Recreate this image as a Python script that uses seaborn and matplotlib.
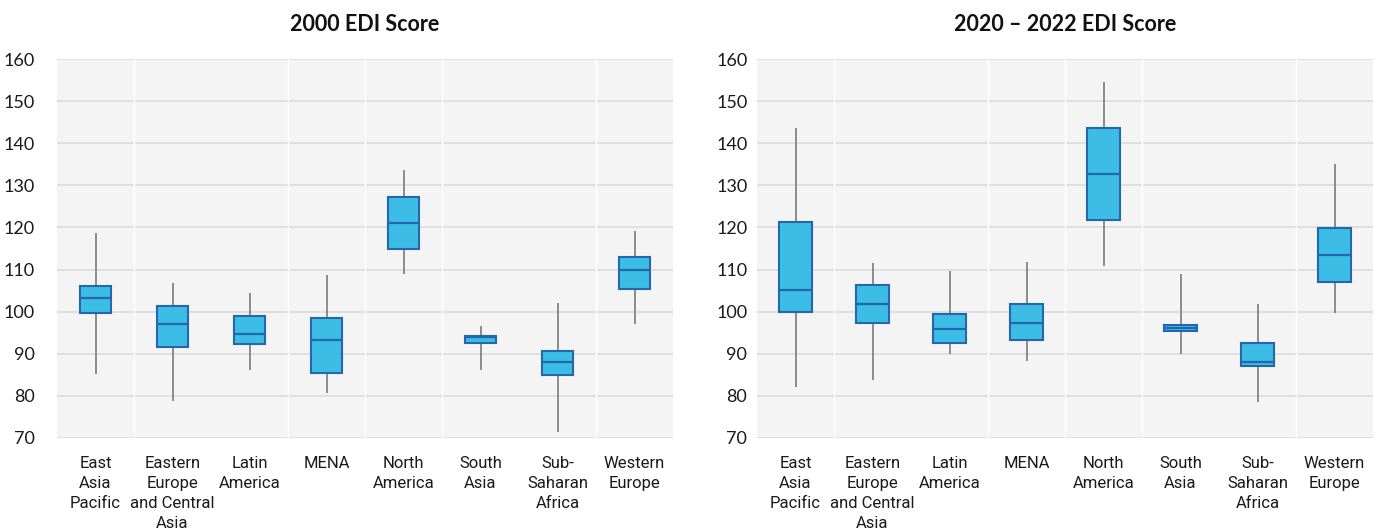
import numpy as np
import pandas as pd
import matplotlib
matplotlib.use("Agg")
import matplotlib.pyplot as plt
import seaborn as sns

# Regions shown on the x axis (display labels wrap onto several lines)
regions = ["East Asia Pacific", "Eastern Europe and Central Asia", "Latin America",
           "MENA", "North America", "South Asia", "Sub-Saharan Africa", "Western Europe"]
region_labels = ["East\nAsia\nPacific", "Eastern\nEurope\nand Central\nAsia", "Latin\nAmerica",
                 "MENA", "North\nAmerica", "South\nAsia", "Sub-\nSaharan\nAfrica", "Western\nEurope"]

# Five-number summaries per region: min, Q1, median, Q3, max
edi_2000_min = [85.3, 78.8, 86.2, 80.8, 109.0, 86.2, 71.4, 97.1]
edi_2000_q1 = [99.6, 91.6, 92.3, 85.5, 115.0, 92.6, 84.9, 105.4]
edi_2000_med = [103.2, 97.0, 94.8, 93.2, 121.1, 93.9, 88.1, 109.8]
edi_2000_q3 = [106.0, 101.3, 99.0, 98.4, 127.3, 94.2, 90.7, 113.1]
edi_2000_max = [118.6, 106.9, 104.4, 108.8, 133.6, 96.7, 102.1, 119.2]

edi_2022_min = [82.1, 83.7, 90.0, 88.2, 110.9, 89.9, 78.5, 99.7]
edi_2022_q1 = [99.9, 97.4, 92.6, 93.3, 121.8, 95.5, 87.2, 107.1]
edi_2022_med = [105.2, 101.9, 95.8, 97.4, 132.7, 96.2, 88.1, 113.5]
edi_2022_q3 = [121.2, 106.4, 99.4, 101.9, 143.6, 96.8, 92.6, 119.9]
edi_2022_max = [143.5, 111.5, 109.6, 111.9, 154.5, 108.9, 101.9, 135.0]

titles = ["2000 EDI Score", "2020 \u2013 2022 EDI Score"]
y_ticks = [70, 80, 90, 100, 110, 120, 130, 140, 150, 160]


def summary_frame(mins, q1s, meds, q3s, maxs):
    # Five points per region reproduce the quartiles exactly with linear percentiles
    rows = []
    for r, a, b, c, d, e in zip(region_labels, mins, q1s, meds, q3s, maxs):
        for v in (a, b, c, d, e):
            rows.append({"region": r, "score": v})
    return pd.DataFrame(rows)


frames = [
    summary_frame(edi_2000_min, edi_2000_q1, edi_2000_med, edi_2000_q3, edi_2000_max),
    summary_frame(edi_2022_min, edi_2022_q1, edi_2022_med, edi_2022_q3, edi_2022_max),
]

sns.set_theme(style="white")
plt.rcParams["font.family"] = ["Lato", "DejaVu Sans"]

W, H = 1381, 529
fig = plt.figure(figsize=(W / 100, H / 100), dpi=100)
fig.patch.set_facecolor("white")

ax_left_px = [57, 757]
ax_w_px = 616
ax_top_px, ax_bot_px = 59, 438
box_widths = [0.39, 0.42]
ytick_pads = [16, 7]

fill = "#3bbde6"
edge = "#2566ad"
whisker = "#707070"

for i, df in enumerate(frames):
    ax = fig.add_axes([ax_left_px[i] / W, 1 - ax_bot_px / H,
                       ax_w_px / W, (ax_bot_px - ax_top_px) / H])
    ax.set_facecolor("#f4f4f4")

    # Horizontal grid lines every 10 points
    for t in y_ticks:
        ax.axhline(t, color="#dddddd", lw=1.3, zorder=0.5)
    # White separators between some region columns
    for xv in [0.5, 2.5, 3.5, 4.5, 6.5]:
        ax.axvline(xv, color="white", lw=1.0, zorder=0.6)

    sns.boxplot(data=df, x="region", y="score", ax=ax, order=region_labels,
                whis=(0, 100), width=box_widths[i], showcaps=False, fliersize=0,
                color=fill, saturation=1,
                boxprops=dict(facecolor=fill, edgecolor=edge, linewidth=1.5, zorder=3),
                medianprops=dict(color=edge, linewidth=1.6, zorder=4),
                whiskerprops=dict(color=whisker, linewidth=1.1, zorder=2),
                capprops=dict(color=whisker, linewidth=0))

    ax.set_xlim(-0.5, 7.5)
    ax.set_ylim(70, 160)
    ax.set_yticks(y_ticks)
    ax.set_yticklabels([str(t) for t in y_ticks], fontsize=13, color="#1a1a1a")
    ax.tick_params(axis="y", length=0, pad=ytick_pads[i])
    ax.tick_params(axis="x", length=0, pad=13)
    ax.set_xticks(range(len(region_labels)))
    ax.set_xticklabels(region_labels, fontsize=12, color="#1a1a1a",
                       family=["Liberation Sans Narrow", "Roboto", "DejaVu Sans"],
                       linespacing=1.42, va="top", ha="center")
    ax.set_xlabel("")
    ax.set_ylabel("")
    for s in ax.spines.values():
        s.set_visible(False)
    ax.set_title(titles[i], fontsize=15.5, fontweight="bold", color="#111111", pad=20)

fig.savefig("out.png", dpi=100, facecolor="white")
